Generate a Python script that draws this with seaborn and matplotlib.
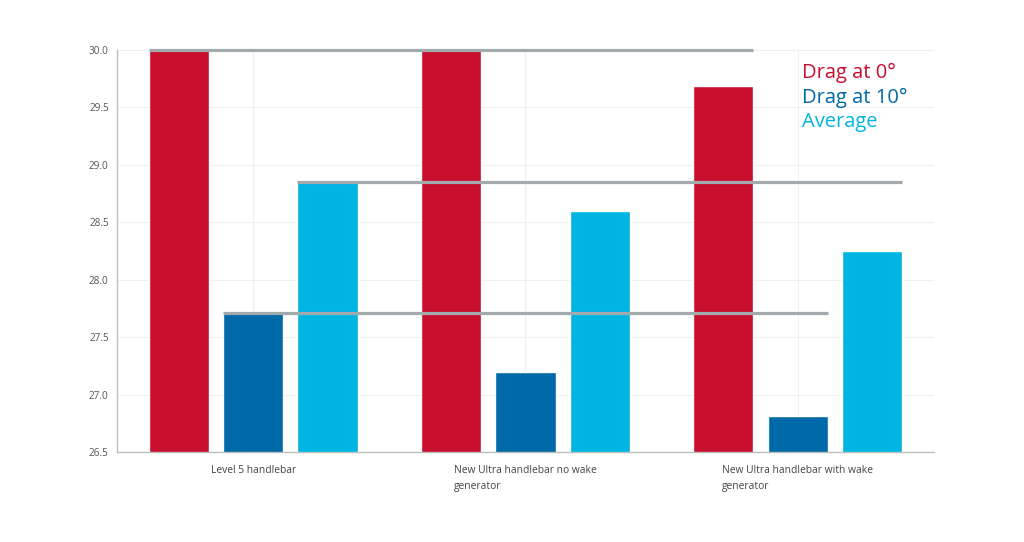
import textwrap
import pandas as pd
import seaborn as sns
from matplotlib import pyplot as plt

# data
handlebars = ["Level 5 handlebar",
              "New Ultra handlebar no wake generator",
              "New Ultra handlebar with wake generator"]
drag_0 = [30.0, 30.0, 29.69]
drag_10 = [27.71, 27.2, 26.81]
average = [28.85, 28.6, 28.25]

series_names = ["Drag at 0°", "Drag at 10°", "Average"]
colors = ["#C8102E", "#0069A7", "#00B5E2"]
line_color = "#A2AAAD"

df = pd.DataFrame({
    "handlebar": handlebars * 3,
    "series": [s for s in series_names for _ in handlebars],
    "drag": drag_0 + drag_10 + average,
})

sns.set_style("white")
plt.rcParams["font.family"] = ["Open Sans", "DejaVu Sans"]

fig = plt.figure(figsize=(10.24, 5.42), dpi=100)
ax = fig.add_axes([0.1143, 0.166, 0.7977, 0.7417])

sns.barplot(data=df, x="handlebar", y="drag", hue="series", hue_order=series_names,
            palette=colors, width=0.82, gap=0.19, saturation=1, ax=ax, legend=False, zorder=2)

ax.set_ylim(26.5, 30.0)
ax.set_xlim(-0.5, 2.5)
ax.set_yticks([26.5, 27.0, 27.5, 28.0, 28.5, 29.0, 29.5, 30.0])
ax.set_yticklabels([f"{v:.1f}" for v in ax.get_yticks()])
ax.set_xticks(range(len(handlebars)))
ax.set_xticklabels([textwrap.fill(h, 29) for h in handlebars], ha="center",
                   multialignment="left", linespacing=1.7)
ax.set_xlabel("")
ax.set_ylabel("")

ax.grid(True, color="#EFEFEF", linewidth=0.8, zorder=0)
ax.set_axisbelow(True)
for side in ["top", "right"]:
    ax.spines[side].set_visible(False)
for side in ["left", "bottom"]:
    ax.spines[side].set_color("#BDBDBD")
    ax.spines[side].set_linewidth(1.0)
ax.tick_params(axis="y", direction="out", length=4, color="#BDBDBD", labelsize=7.2, labelcolor="#555555", pad=2)
ax.tick_params(axis="x", direction="out", length=4, color="#BDBDBD", labelsize=7.4, labelcolor="#444444", pad=5)

# reference lines at the Level 5 values, spanning each series' bars
bars_per_series = [ax.containers[i] for i in range(len(series_names))]
for s_idx, level in enumerate([drag_0[0], drag_10[0], average[0]]):
    first = bars_per_series[s_idx][0]
    last = bars_per_series[s_idx][-1]
    x0 = first.get_x()
    x1 = last.get_x() + last.get_width()
    ax.hlines(level, x0, x1, color=line_color, linewidth=2.3, zorder=5, clip_on=False)

# legend as coloured text
for i, (name, c) in enumerate(zip(series_names, colors)):
    fig.text(0.783, 0.865 - i * 0.045, name, color=c, fontsize=14.5, ha="left", va="center")

fig.savefig("out.png", dpi=100)
